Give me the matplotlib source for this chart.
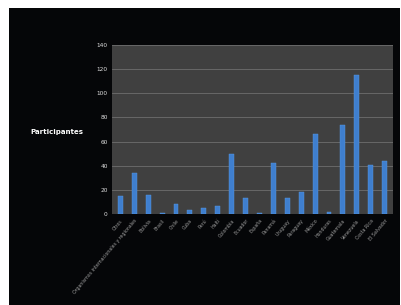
import matplotlib
matplotlib.use("Agg")
import matplotlib.pyplot as plt
import numpy as np

categories = ["Otros", "Organismos internacionales y regionales", "Bolivia", "Brasil",
              "Chile", "Cuba", "Perú", "Haití", "Colombia", "Ecuador", "España",
              "Panamá", "Uruguay", "Paraguay", "México", "Honduras", "Guatemala",
              "Venezuela", "Costa Rica", "El Salvador"]
participantes = [15, 34, 16, 1, 8, 3, 5, 7, 50, 13, 1, 42, 13, 18, 66, 2, 74, 115, 41, 44]
yticks = [0, 20, 40, 60, 80, 100, 120, 140]

W, H = 402, 305
fig = plt.figure(figsize=(W/100, H/100), dpi=100, facecolor="white")
bg = fig.add_axes([9/W, 0, (400-9)/W, (H-8)/H], zorder=0)
bg.set_facecolor("#050608")
bg.set_xticks([]); bg.set_yticks([])
for s in bg.spines.values():
    s.set_visible(False)

ax = fig.add_axes([112/W, 1-214/H, (393-112)/W, (214-45)/H], zorder=1)
ax.set_facecolor("#404040")
x = np.arange(len(categories))
ax.bar(x, participantes, width=0.35, color="#3f7fcf", edgecolor="#5a9ae0", linewidth=0.3, zorder=3)
ax.set_xlim(-0.6, len(categories) - 0.4)
ax.set_ylim(0, 140)
ax.set_yticks(yticks)
ax.set_yticklabels([str(v) for v in yticks], color="#dddddd", fontsize=4.2)
ax.yaxis.grid(True, color="#6e6e6e", linewidth=0.6, zorder=0)
ax.set_xticks(x)
ax.set_xticklabels(categories, rotation=50, ha="right", rotation_mode="anchor",
                   fontsize=3.4, color="#9a9a9a")
ax.tick_params(axis="both", length=0, pad=3)
for s in ax.spines.values():
    s.set_visible(False)
fig.text(83/W, 1-132/H, "Participantes", color="white", fontsize=5,
         fontweight="bold", va="center", ha="right", zorder=5)
fig.savefig("out.png", dpi=100, facecolor="white")
